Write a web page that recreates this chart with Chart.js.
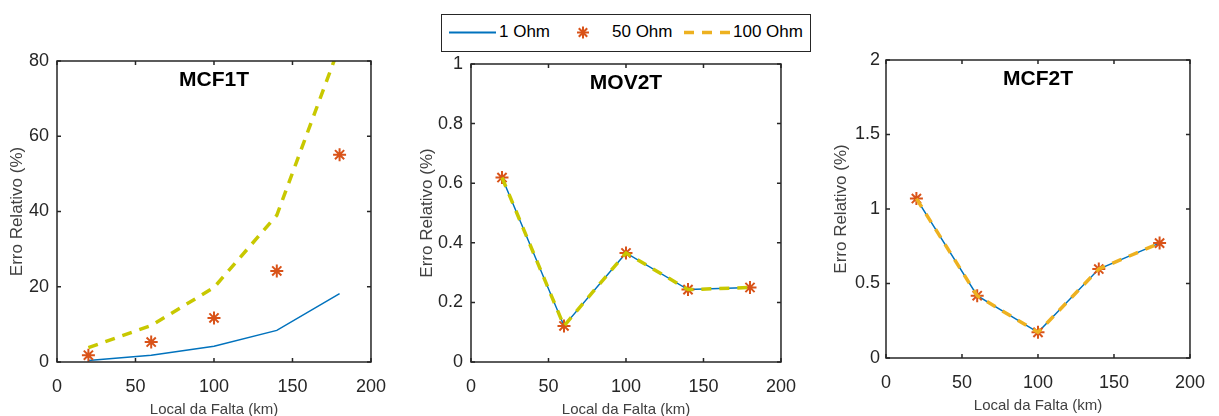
<!DOCTYPE html>
<html>
<head>
<meta charset="utf-8">
<script src="https://cdn.jsdelivr.net/npm/chart.js@4"></script>
<style>
  body { margin: 0; background: #fff; }
  #wrap { position: relative; width: 1219px; height: 416px; overflow: hidden; font-family: "Liberation Sans", Arial, sans-serif; }
  canvas { position: absolute; top: 0; }
  #legend { position: absolute; left: 441px; top: 14px; width: 368px; height: 36px; border: 1px solid #262626; background: #fff; z-index: 2; }
  #legend span { position: absolute; top: 7px; font-size: 17px; color: #000; line-height: 20px; }
  #legend svg { position: absolute; left: 0; top: 0; }
</style>
</head>
<body>
<div id="wrap">
  <canvas id="c1" width="400" height="416" style="left:0px"></canvas>
  <canvas id="c2" width="400" height="416" style="left:410px"></canvas>
  <canvas id="c3" width="399" height="416" style="left:820px"></canvas>
  <div id="legend">
    <svg width="368" height="36">
      <line x1="7" y1="17.5" x2="54" y2="17.5" stroke="#0072BD" stroke-width="2"/>
      <g stroke="#D95319" stroke-width="2">
        <line x1="141" y1="11.5" x2="141" y2="23.5"/>
        <line x1="135" y1="17.5" x2="147" y2="17.5"/>
        <line x1="136.8" y1="13.3" x2="145.2" y2="21.7"/>
        <line x1="136.8" y1="21.7" x2="145.2" y2="13.3"/>
      </g>
      <line x1="242" y1="17.5" x2="288" y2="17.5" stroke="#EDB120" stroke-width="3.5" stroke-dasharray="10 8"/>
    </svg>
    <span style="left:57px">1 Ohm</span>
    <span style="left:170px">50 Ohm</span>
    <span style="left:291px">100 Ohm</span>
  </div>
</div>
<script>
// fault location (km)
const locais = [20, 60, 100, 140, 180];

// MCF1T
const mcf1t_1ohm = [0.4, 1.8, 4.2, 8.4, 18.2];
const mcf1t_50ohm = [1.8, 5.3, 11.7, 24.2, 55.1];
const mcf1t_100ohm = [3.8, 9.7, 19.8, 39.0, 84.0];

// MOV2T
const mov2t_1ohm = [0.619, 0.121, 0.366, 0.243, 0.250];
const mov2t_50ohm = [0.619, 0.121, 0.366, 0.243, 0.250];
const mov2t_100ohm = [0.619, 0.121, 0.366, 0.243, 0.250];

// MCF2T
const mcf2t_1ohm = [1.070, 0.418, 0.172, 0.597, 0.771];
const mcf2t_50ohm = [1.070, 0.418, 0.172, 0.597, 0.771];
const mcf2t_100ohm = [1.070, 0.418, 0.172, 0.597, 0.771];

const xTicks = [0, 50, 100, 150, 200];

const toPts = (vals) => vals.map((v, i) => ({x: locais[i], y: v}));

const frame = {
    id: 'frame',
    afterDraw(chart) {
        const ctx = chart.ctx;
        const a = chart.chartArea;
        const xs = chart.scales.x, ys = chart.scales.y;
        const t = 4;
        ctx.save();
        ctx.strokeStyle = '#262626';
        ctx.lineWidth = 1.5;
        ctx.strokeRect(a.left, a.top, a.right - a.left, a.bottom - a.top);
        ctx.beginPath();
        xs.ticks.forEach(tk => {
            const px = xs.getPixelForValue(tk.value);
            ctx.moveTo(px, a.bottom); ctx.lineTo(px, a.bottom - t);
            ctx.moveTo(px, a.top); ctx.lineTo(px, a.top + t);
        });
        ys.ticks.forEach(tk => {
            const py = ys.getPixelForValue(tk.value);
            ctx.moveTo(a.left, py); ctx.lineTo(a.left + t, py);
            ctx.moveTo(a.right, py); ctx.lineTo(a.right - t, py);
        });
        ctx.stroke();
        // title inside the axes
        ctx.fillStyle = '#000';
        ctx.font = 'bold 21px "Liberation Sans", Arial, sans-serif';
        ctx.textAlign = 'center';
        ctx.textBaseline = 'middle';
        ctx.fillText(chart.options.plugins.frame.text, (a.left + a.right) / 2, a.top + 19);
        ctx.restore();
    }
};

function makeChart(id, o) {
    return new Chart(document.getElementById(id), {
        type: 'line',
        data: {
            datasets: [
                {
                    label: '1 Ohm',
                    data: toPts(o.d1),
                    borderColor: '#0072BD',
                    borderWidth: 1.5,
                    pointRadius: 0,
                    order: 3
                },
                {
                    label: '50 Ohm',
                    data: toPts(o.d50),
                    showLine: false,
                    pointStyle: 'star',
                    pointRadius: 6.5,
                    pointBorderColor: '#D95319',
                    pointBackgroundColor: '#D95319',
                    pointBorderWidth: 2,
                    order: 2
                },
                {
                    label: '100 Ohm',
                    data: toPts(o.d100),
                    borderColor: o.yellow,
                    borderWidth: 3.5,
                    borderDash: [10, 8],
                    pointRadius: 0,
                    order: 1
                }
            ]
        },
        options: {
            responsive: false,
            animation: false,
            layout: { padding: { top: o.top, right: o.right, left: 0, bottom: 0 } },
            plugins: {
                legend: { display: false },
                tooltip: { enabled: false },
                frame: { text: o.title }
            },
            scales: {
                x: {
                    type: 'linear',
                    min: 0, max: 200,
                    afterBuildTicks: s => { s.ticks = xTicks.map(v => ({value: v})); },
                    afterFit: s => { s.height = o.xh; },
                    grid: { display: false, drawTicks: false },
                    border: { display: false },
                    ticks: { color: '#262626', padding: 14, maxRotation: 0, font: { size: 18 } },
                    title: {
                        display: true,
                        text: 'Local da Falta (km)',
                        color: '#404040',
                        font: { size: 15 },
                        padding: { top: 0, bottom: o.xtb }
                    }
                },
                y: {
                    min: 0, max: o.ymax,
                    ticks: {
                        stepSize: o.step, color: '#262626', padding: o.ypad, font: { size: 18 },
                        callback: v => String(+v.toFixed(2))
                    },
                    afterFit: s => { s.width = o.yw; },
                    grid: { display: false, drawTicks: false },
                    border: { display: false },
                    title: {
                        display: true,
                        text: 'Erro Relativo (%)',
                        color: '#404040',
                        font: { size: 17 },
                        padding: { top: o.ytp, bottom: 0 }
                    }
                }
            }
        },
        plugins: [frame]
    });
}

Chart.defaults.font.family = '"Liberation Sans", Arial, sans-serif';

makeChart('c1', {
    title: 'MCF1T', d1: mcf1t_1ohm, d50: mcf1t_50ohm, d100: mcf1t_100ohm,
    yellow: '#C8C800', ymax: 80, step: 20,
    top: 61, right: 28, yw: 57, xh: 54, xtb: -2.5, ytp: 7.3, ypad: 8
});
makeChart('c2', {
    title: 'MOV2T', d1: mov2t_1ohm, d50: mov2t_50ohm, d100: mov2t_100ohm,
    yellow: '#C8C800', ymax: 1, step: 0.2,
    top: 64, right: 23, yw: 61, xh: 54, xtb: -2.5, ytp: 6.8, ypad: 8
});
makeChart('c3', {
    title: 'MCF2T', d1: mcf2t_1ohm, d50: mcf2t_50ohm, d100: mcf2t_100ohm,
    yellow: '#EDB120', ymax: 2, step: 0.5,
    top: 60, right: 17, yw: 66, xh: 58, xtb: 1, ytp: 11.3, ypad: 6
});
</script>
</body>
</html>
